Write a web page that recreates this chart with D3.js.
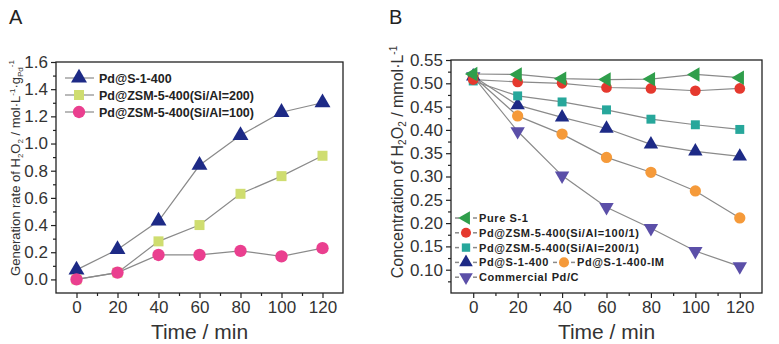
<!DOCTYPE html>
<html><head><meta charset="utf-8">
<script src="https://cdn.jsdelivr.net/npm/d3@7"></script>
<style>body{margin:0;background:#fff;} svg{display:block;font-family:"Liberation Sans",Arial,sans-serif;}</style>
</head><body>
<svg id="c" width="779" height="344"></svg>
<script>
const times = [0, 20, 40, 60, 80, 100, 120];
const xTicks = [0, 20, 40, 60, 80, 100, 120];

// Panel A
const aNames = ["Pd@S-1-400", "Pd@ZSM-5-400(Si/Al=200)", "Pd@ZSM-5-400(Si/Al=100)"];
const aS1 = [0.07, 0.22, 0.43, 0.84, 1.06, 1.23, 1.30];
const aZ200 = [0.00, 0.05, 0.28, 0.40, 0.63, 0.76, 0.91];
const aZ100 = [0.00, 0.05, 0.18, 0.18, 0.21, 0.17, 0.23];
const aYTicks = [0.0, 0.2, 0.4, 0.6, 0.8, 1.0, 1.2, 1.4, 1.6];

// Panel B
const bNames = ["Pure S-1", "Pd@ZSM-5-400(Si/Al=100/1)", "Pd@ZSM-5-400(Si/Al=200/1)", "Pd@S-1-400", "Pd@S-1-400-IM", "Commercial Pd/C"];
const bPure = [0.520, 0.519, 0.510, 0.508, 0.509, 0.519, 0.512];
const bZ100 = [0.508, 0.503, 0.500, 0.491, 0.489, 0.484, 0.489];
const bZ200 = [0.505, 0.473, 0.460, 0.443, 0.423, 0.411, 0.401];
const bS1 = [0.515, 0.453, 0.427, 0.403, 0.369, 0.354, 0.343];
const bIM = [0.515, 0.430, 0.391, 0.341, 0.309, 0.269, 0.211];
const bPdC = [0.515, 0.397, 0.302, 0.234, 0.189, 0.140, 0.107];
const bYTicks = [0.10, 0.15, 0.20, 0.25, 0.30, 0.35, 0.40, 0.45, 0.50, 0.55];

const svg = d3.select("#c");
const lineCol = "#8a8a8a";

function marker(g, type, color, size) {
  const sym = d3.symbol(type === "square" ? d3.symbolSquare : type === "circle" ? d3.symbolCircle : d3.symbolTriangle, size);
  const p = g.append("path").attr("d", sym()).attr("fill", color);
  if (type === "triDown") p.attr("transform", "rotate(180)");
  if (type === "triLeft") p.attr("transform", "rotate(-90)");
  return p;
}

function panel(opt) {
  const x = d3.scaleLinear().domain([-10, 130]).range([opt.x0, opt.x1]);
  const y = d3.scaleLinear().domain(opt.yDom).range([opt.y1, opt.y0]);
  const g = svg.append("g");
  const xMinor = [10, 30, 50, 70, 90, 110];
  g.append("g").attr("transform", `translate(0,${opt.y1})`)
    .call(d3.axisBottom(x).tickValues(xMinor).tickSize(3).tickFormat(""))
    .call(a => a.select(".domain").remove())
    .call(a => a.selectAll("line").attr("stroke", "#222").attr("stroke-width", 1.2));
  const xa = g.append("g").attr("transform", `translate(0,${opt.y1})`)
    .call(d3.axisBottom(x).tickValues(xTicks).tickSize(5).tickPadding(3));
  xa.select(".domain").remove();
  xa.selectAll("line").attr("stroke", "#222").attr("stroke-width", 1.2);
  xa.selectAll("text").attr("font-size", 17).attr("fill", "#333").attr("font-family", '"Liberation Sans",Arial,sans-serif');

  g.append("g").attr("transform", `translate(${opt.x0},0)`)
    .call(d3.axisLeft(y).tickValues(opt.yMinor).tickSize(3).tickFormat(""))
    .call(a => a.select(".domain").remove())
    .call(a => a.selectAll("line").attr("stroke", "#222").attr("stroke-width", 1.2));
  const ya = g.append("g").attr("transform", `translate(${opt.x0},0)`)
    .call(d3.axisLeft(y).tickValues(opt.yTicks).tickSize(5).tickPadding(3).tickFormat(d3.format(opt.fmt)));
  ya.select(".domain").remove();
  ya.selectAll("line").attr("stroke", "#222").attr("stroke-width", 1.2);
  ya.selectAll("text").attr("font-size", 17).attr("fill", "#333").attr("font-family", '"Liberation Sans",Arial,sans-serif');

  g.append("rect").attr("x", opt.x0).attr("y", opt.y0).attr("width", opt.x1 - opt.x0).attr("height", opt.y1 - opt.y0)
    .attr("fill", "none").attr("stroke", "#222").attr("stroke-width", 1.3);

  const line = d3.line().x((d, i) => x(times[i])).y(d => y(d));
  opt.series.forEach(s => {
    g.append("path").datum(s.values).attr("d", line).attr("fill", "none").attr("stroke", lineCol).attr("stroke-width", 1.2);
  });
  opt.series.forEach(s => {
    s.values.forEach((v, i) => {
      const mg = g.append("g").attr("transform", `translate(${x(times[i])},${y(v)})`);
      marker(mg, s.type, s.color, s.size);
    });
  });
  g.append("text").attr("x", (opt.x0 + opt.x1) / 2).attr("y", 339).attr("text-anchor", "middle")
    .attr("font-size", 21).attr("fill", "#333").text("Time / min");
  return {x, y, g};
}

// Panel A
panel({
  x0: 56, x1: 343, y0: 62, y1: 293, yDom: [-0.1, 1.6], yTicks: aYTicks,
  yMinor: [0.1, 0.3, 0.5, 0.7, 0.9, 1.1, 1.3, 1.5], fmt: ".1f",
  series: [
    {name: aNames[0], values: aS1, type: "triUp", color: "#1d2a86", size: 110},
    {name: aNames[1], values: aZ200, type: "square", color: "#cfdd70", size: 100},
    {name: aNames[2], values: aZ100, type: "circle", color: "#ea3f8f", size: 120}
  ]
});
// Panel B
panel({
  x0: 451, x1: 762, y0: 60, y1: 293, yDom: [0.05, 0.55], yTicks: bYTicks,
  yMinor: [0.075, 0.125, 0.175, 0.225, 0.275, 0.325, 0.375, 0.425, 0.475, 0.525], fmt: ".2f",
  series: [
    {name: bNames[5], values: bPdC, type: "triDown", color: "#5b4fa8", size: 90},
    {name: bNames[4], values: bIM, type: "circle", color: "#f59a3a", size: 100},
    {name: bNames[3], values: bS1, type: "triUp", color: "#1d2a86", size: 90},
    {name: bNames[2], values: bZ200, type: "square", color: "#27a79b", size: 80},
    {name: bNames[1], values: bZ100, type: "circle", color: "#e5392e", size: 90},
    {name: bNames[0], values: bPure, type: "triLeft", color: "#2f9e4b", size: 90}
  ]
});

// Legend A
const legA = [
  {name: aNames[0], type: "triUp", color: "#1d2a86", size: 110},
  {name: aNames[1], type: "square", color: "#cfdd70", size: 100},
  {name: aNames[2], type: "circle", color: "#ea3f8f", size: 120}
];
legA.forEach((d, i) => {
  const yy = 78 + i * 17;
  svg.append("line").attr("x1", 65).attr("x2", 94).attr("y1", yy).attr("y2", yy).attr("stroke", lineCol).attr("stroke-width", 1.2);
  const mg = svg.append("g").attr("transform", `translate(79,${yy})`);
  marker(mg, d.type, d.color, d.size);
  svg.append("text").attr("x", 99).attr("y", yy + 4.5).attr("font-size", 12.5).attr("font-weight", "bold").attr("fill", "#222").text(d.name);
});

// Legend B
const legB = [
  {name: bNames[0], type: "triLeft", color: "#2f9e4b", size: 80, row: 0, x: 466},
  {name: bNames[1], type: "circle", color: "#e5392e", size: 80, row: 1, x: 466},
  {name: bNames[2], type: "square", color: "#27a79b", size: 70, row: 2, x: 466},
  {name: bNames[3], type: "triUp", color: "#1d2a86", size: 80, row: 3, x: 466},
  {name: bNames[4], type: "circle", color: "#f59a3a", size: 80, row: 3, x: 564},
  {name: bNames[5], type: "triDown", color: "#5b4fa8", size: 80, row: 4, x: 466}
];
legB.forEach(d => {
  const yy = 218 + d.row * 14.8;
  svg.append("line").attr("x1", d.x - 11).attr("x2", d.x - 7).attr("y1", yy).attr("y2", yy).attr("stroke", lineCol).attr("stroke-width", 1.5);
  svg.append("line").attr("x1", d.x + 7).attr("x2", d.x + 11).attr("y1", yy).attr("y2", yy).attr("stroke", lineCol).attr("stroke-width", 1.5);
  const mg = svg.append("g").attr("transform", `translate(${d.x},${yy})`);
  marker(mg, d.type, d.color, d.size);
  svg.append("text").attr("x", d.x + 13).attr("y", yy + 4).attr("font-size", 11).attr("font-weight", "bold")
    .attr("letter-spacing", 0.6).attr("fill", "#222").text(d.name);
});

// Y labels
const la = svg.append("text").attr("transform", "translate(20,168) rotate(-90)").attr("text-anchor", "middle")
  .attr("font-size", 13).attr("fill", "#333");
la.append("tspan").text("Generation rate of H");
la.append("tspan").attr("font-size", 8).attr("dy", 3).text("2");
la.append("tspan").attr("dy", -3).text("O");
la.append("tspan").attr("font-size", 8).attr("dy", 3).text("2");
la.append("tspan").attr("dy", -3).text(" / mol·L");
la.append("tspan").attr("font-size", 8).attr("dy", -5).text("-1");
la.append("tspan").attr("dy", 5).text("·g");
la.append("tspan").attr("font-size", 8).attr("dy", 3).text("Pd");
la.append("tspan").attr("font-size", 8).attr("dy", -9).text("-1");

const lb = svg.append("text").attr("transform", "translate(403,162) rotate(-90)").attr("text-anchor", "middle")
  .attr("font-size", 16).attr("fill", "#333");
lb.append("tspan").text("Concentration of H");
lb.append("tspan").attr("font-size", 10).attr("dy", 3).text("2");
lb.append("tspan").attr("dy", -3).text("O");
lb.append("tspan").attr("font-size", 10).attr("dy", 3).text("2");
lb.append("tspan").attr("dy", -3).text(" / mmol·L");
lb.append("tspan").attr("font-size", 10).attr("dy", -6).text("-1");

// Panel letters
svg.append("text").attr("x", 9).attr("y", 24).attr("font-size", 20).attr("fill", "#222").text("A");
svg.append("text").attr("x", 389).attr("y", 24).attr("font-size", 20).attr("fill", "#222").text("B");
</script>
</body></html>
